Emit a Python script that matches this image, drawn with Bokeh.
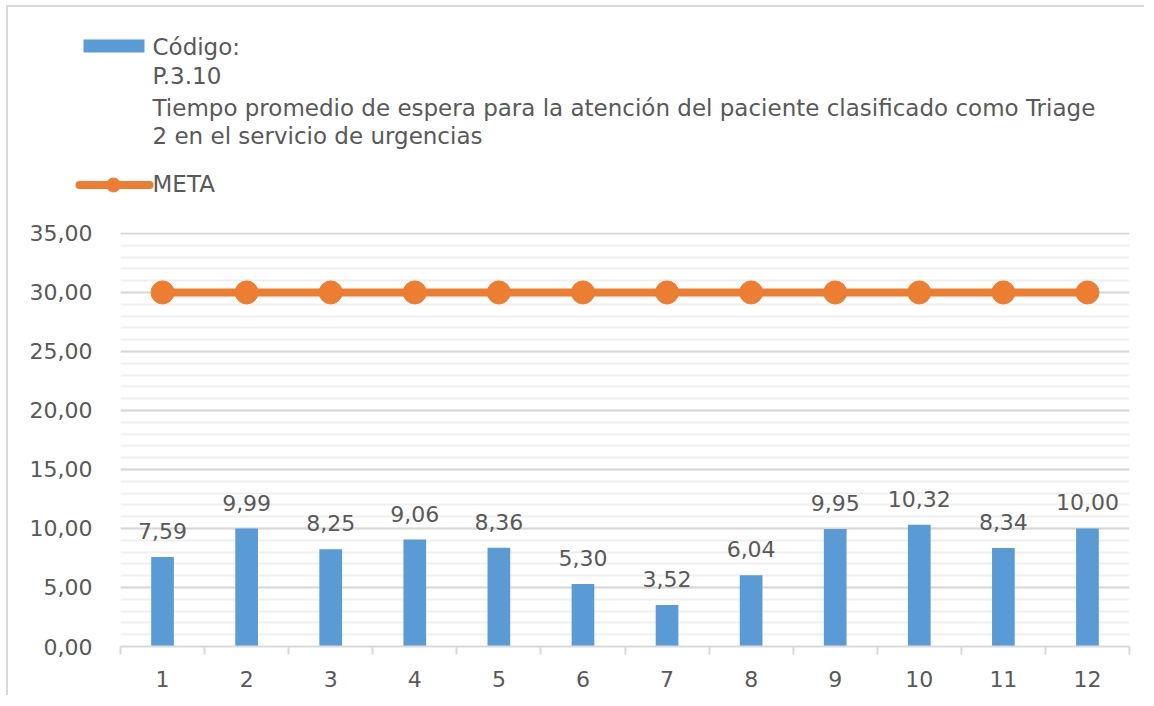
from bokeh.plotting import figure
from bokeh.models import Range1d, FixedTicker, ColumnDataSource
from bokeh.core.properties import value
from bokeh.embed import file_html
from bokeh.resources import INLINE

# ---------------- data ----------------
months = [1, 2, 3, 4, 5, 6, 7, 8, 9, 10, 11, 12]
tiempo = [7.59, 9.99, 8.25, 9.06, 8.36, 5.30, 3.52, 6.04, 9.95, 10.32, 8.34, 10.00]
meta = [30.00, 30.00, 30.00, 30.00, 30.00, 30.00, 30.00, 30.00, 30.00, 30.00, 30.00, 30.00]
y_ticks = [0, 5, 10, 15, 20, 25, 30, 35]
y_minor = list(range(0, 36))
legend_bar_lines = [
    "Código:",
    "P.3.10",
    "Tiempo promedio de espera para la atención del paciente clasificado como Triage",
    "2 en el servicio de urgencias",
]
legend_line_label = "META"

# ---------------- style ----------------
FONT = "DejaVu Sans"
TXT = "#595959"
BLUE = "#5B9BD5"
ORANGE = "#ED7D31"
GRID = "#D9D9D9"
MINOR = "#F0F0F0"
FS = "22px"
LFS = "23px"
BORDER = "2px solid #D9D9D9"

W = 1138
LH = 200   # legend figure height
CH = 490   # chart figure height


def fmt(v):
    return f"{v:.2f}".replace(".", ",")


# ---------------- legend figure ----------------
lg = figure(width=W, height=LH, x_range=Range1d(0, W), y_range=Range1d(LH, 0),
            output_backend="svg", toolbar_location=None, min_border=0,
            styles={"margin-left": "6px", "margin-top": "5px",
                    "border-left": BORDER, "border-top": BORDER})
lg.axis.visible = False
lg.grid.visible = False
lg.outline_line_color = None
lg.background_fill_color = "white"

lg.quad(left=[75], right=[136], top=[32], bottom=[45], fill_color=BLUE, line_color=None)
lg.text(x=[144] * 4, y=[39, 68.5, 100, 128], text=legend_bar_lines,
        text_font=value(FONT), text_font_size=LFS, text_color=TXT,
        text_baseline="middle", text_align="left")
lg.line(x=[71, 141], y=[177.5, 177.5], line_color=ORANGE, line_width=8, line_cap="round")
lg.scatter(x=[105], y=[177.5], size=14, marker="circle", fill_color=ORANGE, line_color=ORANGE)
lg.text(x=[144], y=[176.5], text=[legend_line_label],
        text_font=value(FONT), text_font_size=LFS, text_color=TXT,
        text_baseline="middle", text_align="left")

# ---------------- chart figure ----------------
src = ColumnDataSource(dict(
    x=months, y=tiempo, meta=meta, lbl=[fmt(v) for v in tiempo]))

p = figure(width=W, height=CH, x_range=Range1d(0.5, 12.5), y_range=Range1d(0, 35.08),
           output_backend="svg", toolbar_location=None,
           min_border_left=112, min_border_right=17, min_border_top=27, min_border_bottom=49,
           styles={"margin-left": "6px", "border-left": BORDER})
p.outline_line_color = None

p.xaxis.ticker = FixedTicker(ticks=months, minor_ticks=[m - 0.5 for m in months] + [12.5])
p.xaxis.major_tick_out = 0
p.xaxis.major_tick_in = 0
p.xaxis.minor_tick_out = 8
p.xaxis.minor_tick_in = 0
p.xaxis.minor_tick_line_color = GRID
p.xaxis.minor_tick_line_width = 2
p.xaxis.axis_line_color = GRID
p.xaxis.axis_line_width = 2
p.xaxis.major_label_text_font = FONT
p.xaxis.major_label_text_font_size = FS
p.xaxis.major_label_text_color = TXT
p.xaxis.major_label_standoff = 16
p.xgrid.visible = False

p.yaxis.ticker = FixedTicker(ticks=y_ticks, minor_ticks=y_minor)
p.yaxis.major_label_overrides = {t: fmt(t) for t in y_ticks}
p.yaxis.axis_line_color = None
p.yaxis.major_tick_line_color = None
p.yaxis.minor_tick_line_color = None
p.yaxis.major_label_text_font = FONT
p.yaxis.major_label_text_font_size = FS
p.yaxis.major_label_text_color = TXT
p.yaxis.major_label_standoff = 22
p.ygrid.grid_line_color = GRID
p.ygrid.grid_line_width = 2
p.ygrid.minor_grid_line_color = MINOR
p.ygrid.minor_grid_line_width = 2

p.vbar(x="x", top="y", width=0.27, source=src, fill_color=BLUE, line_color=None)
p.text(x="x", y="y", text="lbl", source=src, text_font=value(FONT), text_font_size=FS,
       text_color=TXT, text_align="center", text_baseline="alphabetic", y_offset=-26)

p.line(x="x", y="meta", source=src, line_color=ORANGE, line_width=8)
p.scatter(x="x", y="meta", source=src, size=23, marker="circle",
          fill_color=ORANGE, line_color=ORANGE)

with open("out.html", "w") as f:
    f.write(file_html([lg, p], INLINE))
